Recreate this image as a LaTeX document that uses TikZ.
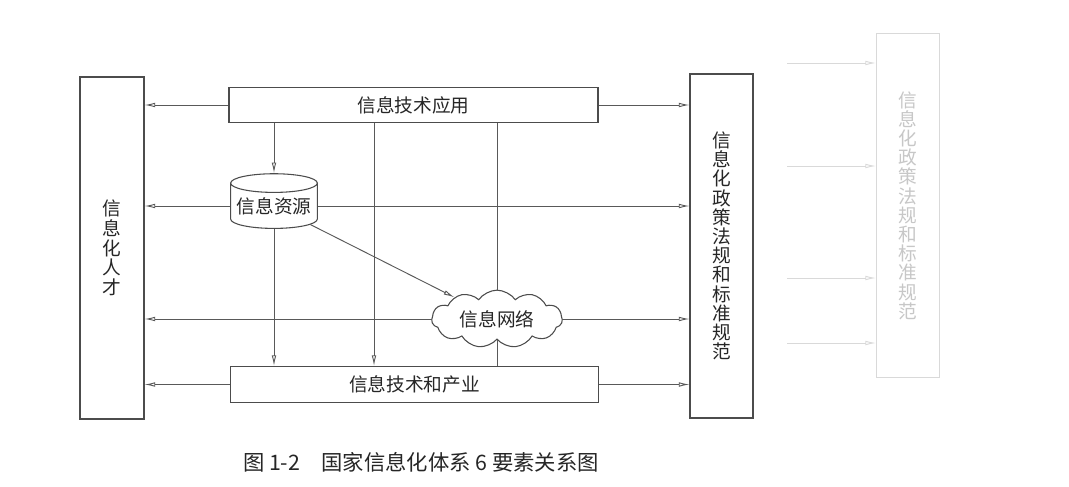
\documentclass[tikz,border=0pt]{standalone}
\usepackage{fontspec}
\newfontfamily\cjk{Noto Sans CJK SC}
\usetikzlibrary{arrows.meta}
\usetikzlibrary{shapes.geometric}
\usetikzlibrary{shapes.symbols}

\begin{document}
\begin{tikzpicture}[x=0.75pt,y=-0.75pt]
\tikzset{elem/.style={draw=black!70,line width=0.8pt,fill=white,text=black!85,inner sep=0pt,font=\cjk\fontsize{14}{16}\selectfont},
         link/.style={draw=black!65,line width=0.7pt},
         tolink/.style={link,-{Latex[open,length=8pt,width=3.5pt]}},
         ghost/.style={draw=black!15,line width=0.8pt,text=black!22,inner sep=0pt,font=\cjk\fontsize{14}{14.4}\selectfont},
         ghostlink/.style={draw=black!15,line width=0.7pt,-{Latex[open,length=8pt,width=3.5pt]}}};

    \fill[white] (0,0) rectangle (1069,486);
    \useasboundingbox (0,0) rectangle (1069,486);

    % side boxes
    \node[elem,minimum width=48pt,minimum height=256.5pt,align=center,font=\cjk\fontsize{14}{14.8}\selectfont] (talent) at (112,248) {信\\息\\化\\人\\才};
    \node[elem,minimum width=47.25pt,minimum height=258pt,align=center,font=\cjk\fontsize{14}{14.4}\selectfont] (policy) at (721.5,246) {信\\息\\化\\政\\策\\法\\规\\和\\标\\准\\规\\范};

    % inner elements
    \node[elem,minimum width=276.75pt,minimum height=26.25pt] (app) at (413.5,105) {信息技术应用};
    \node[elem,minimum width=276pt,minimum height=27pt] (ind) at (414.5,384.5) {信息技术和产业};
    \node[elem,cylinder,shape border rotate=90,aspect=0.25,minimum width=65pt,minimum height=41pt] (res) at (274,206) {信息资源};
    \node[elem,cloud,cloud puffs=11,cloud puff arc=110,aspect=2.4,minimum width=98pt,minimum height=40.5pt] (net) at (497,319) {信息网络};
    \coordinate (mid) at (374,0);

    % to the side boxes
    \foreach \n in {app,res,net,ind}{
        \draw[tolink] (\n.west) -- (\n.west -| talent.east);
        \draw[tolink] (\n.east) -- (\n.east -| policy.west);
    }

    % between the inner elements
    \draw[tolink] (app.south -| res.north) -- (res.north);
    \draw[tolink] (res.south) -- (ind.north -| res.south);
    \draw[tolink] (app.south -| mid) -- (ind.north -| mid);
    \draw[link] (app.south -| net.north) -- (net.north);
    \draw[link] (net.south) -- (ind.north -| net.south);
    \draw[tolink] (res.-27) -- (net.153);

    % faded copy on the right
    \node[ghost,minimum width=47.25pt,minimum height=258pt,align=center] (policycopy) at (908,205.5) {信\\息\\化\\政\\策\\法\\规\\和\\标\\准\\规\\范};
    \foreach \y [count=\i] in {63,166,278,343}{
        \coordinate (gs\i) at (787,\y);
        \draw[ghostlink] (gs\i) -- (gs\i -| policycopy.west);
    }

    \node[text=black!85,font=\cjk\fontsize{16}{19}\selectfont] (caption) at (421,462) {图 1-2\quad 国家信息化体系 6 要素关系图};
\end{tikzpicture}
\end{document}
